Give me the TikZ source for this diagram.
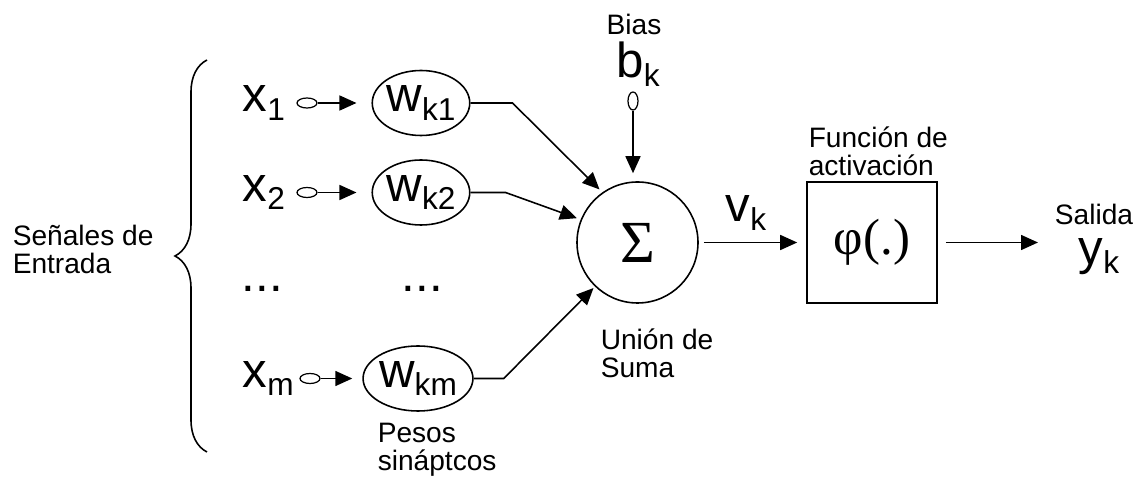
\documentclass[tikz,border=0pt]{standalone}
\usepackage{fontspec}
\setmainfont{Liberation Sans}
\newfontfamily\timesfont{Liberation Serif}
\usetikzlibrary{arrows.meta, positioning, shapes.geometric, decorations.pathreplacing}

\newcommand{\symsize}{\fontsize{28}{28}\selectfont}
\newcommand{\subsize}{\fontsize{18}{18}\selectfont}
\newcommand{\lblsize}{\fontsize{16}{16}\selectfont}
\newcommand{\varsub}[2]{{\symsize #1}\raisebox{-5pt}{\subsize #2}}

\begin{document}
\begin{tikzpicture}[
  line width=0.9pt,
  weight/.style={draw, ellipse, minimum width=1.8cm, minimum height=1.3cm, inner sep=0pt},
  port/.style={draw, ellipse, line width=0.7pt, minimum width=0.4cm, minimum height=0.2cm, inner sep=0pt},
  sumnode/.style={draw, circle, minimum size=2.42cm, inner sep=0pt},
  actbox/.style={draw, minimum width=2.6cm, minimum height=2.42cm},
  caption/.style={font=\lblsize, align=left, inner sep=0pt},
  arr/.style={-{Triangle[length=0.34cm, width=0.3cm]}},
]

  \useasboundingbox (0,0) rectangle (22.82,9.9);

  % input signals and their weights
  \node[anchor=west, inner sep=0pt] (x1) at (4.84, 7.84) {\varsub{x}{1}};
  \node[anchor=west, inner sep=0pt] (x2) at (4.84, 6.05) {\varsub{x}{2}};
  \node[anchor=west, inner sep=0pt] (xm) at (4.84, 2.33) {\varsub{x}{m}};

  \node[port] (p1) at (6.14, 7.84) {};
  \node[port] (p2) at (6.14, 6.05) {};
  \node[port] (pm) at (6.2, 2.33) {};

  \node[weight] (w1) at (8.42, 7.84) {\varsub{w}{k1}};
  \node[weight] (w2) at (8.42, 6.05) {\varsub{w}{k2}};
  \node[weight] (wm) at (8.36, 2.33) {\varsub{w}{km}};

  \node[anchor=base] (xdots) at (5.25, 4.06) {\symsize ...};
  \node[anchor=base] (wdots) at (8.45, 4.06) {\symsize ...};

  \draw[arr, shorten >=0.3cm] (p1) -- (w1);
  \draw[arr, shorten >=0.3cm] (p2) -- (w2);
  \draw[arr, shorten >=0.2cm] (pm) -- (wm);

  \draw[decorate, decoration={brace, amplitude=0.64cm}] (4.14, 0.86) -- (4.14, 8.7);
  \node[caption, anchor=north west] (inlbl) at (0.24, 5.42) {Señales de\\Entrada};
  \node[caption, anchor=north west] (wlbl) at (7.54, 1.46) {Pesos\\sináptcos};

  % summing junction
  \node[sumnode] (sg) at (12.75, 5.05) {\timesfont\fontsize{34}{34}\selectfont Σ};
  \node[caption, anchor=north west] (sglbl) at (12.0, 3.34) {Unión de\\Suma};

  \draw[arr, shorten >=0.08cm] (w1.east) -- ++(0.84,0) -- (sg.125);
  \draw[arr, shorten >=0.08cm] (w2.east) -- ++(0.7,0) -- (sg.158);
  \draw[arr, shorten >=0.04cm] (wm.east) -- ++(0.6,0) -- (sg.226);

  % bias
  \node[font=\lblsize] (bias) at (12.68, 9.42) {Bias};
  \node[anchor=base] (bk) at (12.76, 8.34) {\varsub{b}{k}};
  \node[port, minimum width=0.2cm, minimum height=0.36cm] (bp) at (12.66, 7.88) {};
  \draw[arr, shorten >=0.16cm] (bp) -- (bp |- sg.north);

  % activation and output
  \node[actbox] (act) at (17.44, 5.05) {\timesfont\fontsize{29}{29}\selectfont φ(.)};
  \node[caption, anchor=north west] (actlbl) at (16.16, 7.38) {Función de\\activación};
  \node[anchor=base] (vk) at (14.92, 5.46) {\varsub{v}{k}};
  \draw[arr, shorten <=0.1cm, shorten >=0.18cm] (sg.east) -- (act.west);

  \coordinate (yout) at (20.76, 5.05);
  \draw[arr, shorten <=0.16cm] (act.east) -- (yout);
  \node[font=\lblsize, anchor=base] (sal) at (21.88, 5.4) {Salida};
  \node[anchor=base] (yk) at (21.98, 4.6) {\varsub{y}{k}};

\end{tikzpicture}
\end{document}
